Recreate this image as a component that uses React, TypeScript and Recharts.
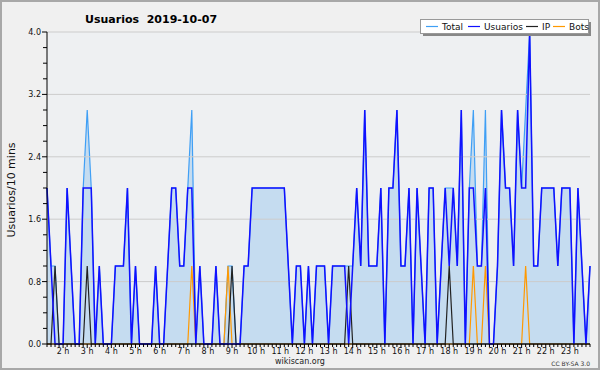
import React from 'react';
import { ComposedChart, Area, Line, XAxis, YAxis, ReferenceLine, CartesianGrid } from 'recharts';

const times = [
  '01:20', '01:30', '01:40', '01:50',
  '02:00', '02:10', '02:20', '02:30', '02:40', '02:50',
  '03:00', '03:10', '03:20', '03:30', '03:40', '03:50',
  '04:00', '04:10', '04:20', '04:30', '04:40', '04:50',
  '05:00', '05:10', '05:20', '05:30', '05:40', '05:50',
  '06:00', '06:10', '06:20', '06:30', '06:40', '06:50',
  '07:00', '07:10', '07:20', '07:30', '07:40', '07:50',
  '08:00', '08:10', '08:20', '08:30', '08:40', '08:50',
  '09:00', '09:10', '09:20', '09:30', '09:40', '09:50',
  '10:00', '10:10', '10:20', '10:30', '10:40', '10:50',
  '11:00', '11:10', '11:20', '11:30', '11:40', '11:50',
  '12:00', '12:10', '12:20', '12:30', '12:40', '12:50',
  '13:00', '13:10', '13:20', '13:30', '13:40', '13:50',
  '14:00', '14:10', '14:20', '14:30', '14:40', '14:50',
  '15:00', '15:10', '15:20', '15:30', '15:40', '15:50',
  '16:00', '16:10', '16:20', '16:30', '16:40', '16:50',
  '17:00', '17:10', '17:20', '17:30', '17:40', '17:50',
  '18:00', '18:10', '18:20', '18:30', '18:40', '18:50',
  '19:00', '19:10', '19:20', '19:30', '19:40', '19:50',
  '20:00', '20:10', '20:20', '20:30', '20:40', '20:50',
  '21:00', '21:10', '21:20', '21:30', '21:40', '21:50',
  '22:00', '22:10', '22:20', '22:30', '22:40', '22:50',
  '23:00', '23:10', '23:20', '23:30', '23:40', '23:50',
];

const total = [
  2, 1, 1, 0, 0, 2, 1, 0, 0, 2,
  3, 2, 0, 1, 0, 0, 0, 1, 1, 1,
  2, 0, 1, 0, 0, 0, 0, 1, 0, 0,
  1, 2, 2, 1, 1, 2, 3, 0, 1, 0,
  0, 0, 1, 0, 0, 1, 1, 0, 0, 1,
  1, 2, 2, 2, 2, 2, 2, 2, 2, 2,
  1, 0, 1, 1, 0, 1, 0, 1, 1, 1,
  0, 1, 1, 1, 1, 1, 1, 2, 1, 3,
  1, 1, 1, 2, 0, 2, 2, 3, 1, 1,
  2, 0, 2, 1, 0, 2, 2, 0, 1, 2,
  2, 2, 1, 3, 0, 2, 3, 1, 1, 3,
  0, 0, 1, 3, 2, 2, 1, 3, 2, 3,
  4, 1, 1, 2, 2, 2, 2, 1, 2, 2,
  2, 0, 2, 1, 0, 1,
];

const usuarios = [
  2, 1, 0, 0, 0, 2, 1, 0, 0, 2,
  2, 2, 0, 1, 0, 0, 0, 1, 1, 1,
  2, 0, 1, 0, 0, 0, 0, 1, 0, 0,
  1, 2, 2, 1, 1, 2, 2, 0, 1, 0,
  0, 0, 1, 0, 0, 0, 0, 0, 0, 1,
  1, 2, 2, 2, 2, 2, 2, 2, 2, 2,
  1, 0, 1, 1, 0, 1, 0, 1, 1, 1,
  0, 1, 1, 1, 1, 0, 1, 2, 1, 3,
  1, 1, 1, 2, 0, 2, 2, 3, 1, 1,
  2, 0, 2, 1, 0, 2, 2, 0, 1, 2,
  1, 2, 1, 3, 0, 2, 2, 1, 1, 2,
  0, 0, 1, 3, 2, 2, 1, 3, 2, 2,
  4, 1, 1, 2, 2, 2, 2, 1, 2, 2,
  2, 0, 2, 1, 0, 1,
];

const ip = [
  0, 0, 1, 0, 0, 0, 0, 0, 0, 0,
  1, 0, 0, 0, 0, 0, 0, 0, 0, 0,
  0, 0, 0, 0, 0, 0, 0, 0, 0, 0,
  0, 0, 0, 0, 0, 0, 0, 0, 0, 0,
  0, 0, 0, 0, 0, 0, 1, 0, 0, 0,
  0, 0, 0, 0, 0, 0, 0, 0, 0, 0,
  0, 0, 0, 0, 0, 0, 0, 0, 0, 0,
  0, 0, 0, 0, 0, 1, 0, 0, 0, 0,
  0, 0, 0, 0, 0, 0, 0, 0, 0, 0,
  0, 0, 0, 0, 0, 0, 0, 0, 0, 0,
  1, 0, 0, 0, 0, 0, 0, 0, 0, 0,
  0, 0, 0, 0, 0, 0, 0, 0, 0, 0,
  0, 0, 0, 0, 0, 0, 0, 0, 0, 0,
  0, 0, 0, 0, 0, 0,
];

const bots = [
  0, 0, 0, 0, 0, 0, 0, 0, 0, 0,
  0, 0, 0, 0, 0, 0, 0, 0, 0, 0,
  0, 0, 0, 0, 0, 0, 0, 0, 0, 0,
  0, 0, 0, 0, 0, 0, 1, 0, 0, 0,
  0, 0, 0, 0, 0, 1, 0, 0, 0, 0,
  0, 0, 0, 0, 0, 0, 0, 0, 0, 0,
  0, 0, 0, 0, 0, 0, 0, 0, 0, 0,
  0, 0, 0, 0, 0, 0, 0, 0, 0, 0,
  0, 0, 0, 0, 0, 0, 0, 0, 0, 0,
  0, 0, 0, 0, 0, 0, 0, 0, 0, 0,
  0, 0, 0, 0, 0, 0, 1, 0, 0, 1,
  0, 0, 0, 0, 0, 0, 0, 0, 0, 1,
  0, 0, 0, 0, 0, 0, 0, 0, 0, 0,
  0, 0, 0, 0, 0, 0,
];

const yTicks = [0, 0.2, 0.4, 0.6, 0.8, 1, 1.2, 1.4, 1.6, 1.8, 2, 2.2, 2.4, 2.6, 2.8, 3, 3.2, 3.4, 3.6, 3.8, 4];
const yLabelTicks = [0, 0.8, 1.6, 2.4, 3.2, 4];
const gridValues = [0.8, 1.6, 2.4, 3.2, 4];

const FONT = 'DejaVu Sans, sans-serif';

const data = times.map((t, i) => ({
  t,
  total: total[i],
  usuarios: usuarios[i],
  ip: ip[i],
  bots: bots[i],
}));

const XTick = (props: any) => {
  const { x, y, payload } = props;
  const v: string = payload.value;
  const isHour = v.endsWith(':00');
  return (
    <g>
      <line x1={x} x2={x} y1={y} y2={y + (isHour ? 4 : 3)} stroke="#000" strokeWidth={1} />
      {isHour && (
        <text x={x} y={y + 10} textAnchor="middle" fontSize={8} fontFamily={FONT} fill="#111">
          {parseInt(v, 10) + ' h'}
        </text>
      )}
    </g>
  );
};

const YTick = (props: any) => {
  const { x, y, payload } = props;
  const v: number = payload.value;
  const isMajor = yLabelTicks.some((t) => Math.abs(t - v) < 1e-6);
  return (
    <g>
      <line x1={x - (isMajor ? 5 : 4)} x2={x} y1={y} y2={y} stroke="#000" strokeWidth={1} />
      {isMajor && (
        <text x={x - 6} y={y + 3} textAnchor="end" fontSize={8} fontFamily={FONT} fill="#111">
          {v.toFixed(1)}
        </text>
      )}
    </g>
  );
};

const legendItems = [
  { label: 'Total', color: '#3f9ff5', lx: 426, tx: 442 },
  { label: 'Usuarios', color: '#1010ff', lx: 468, tx: 484 },
  { label: 'IP', color: '#222222', lx: 526, tx: 542 },
  { label: 'Bots', color: '#ff9900', lx: 553, tx: 569 },
];

export default function App() {
  return (
    <div style={{ position: 'absolute', left: 0, top: 0, width: 600, height: 370, background: '#f0f0f0' }}>
      <ComposedChart
        width={600}
        height={370}
        data={data}
        margin={{ top: 32, right: 10, bottom: 6, left: 7 }}
      >
        <CartesianGrid horizontal={false} vertical={false} fill="#eef0f2" />
        {gridValues.map((g) => (
          <ReferenceLine key={g} y={g} stroke="#cccccc" strokeWidth={1} ifOverflow="visible" />
        ))}
        <XAxis
          dataKey="t"
          type="category"
          interval={0}
          tickSize={0}
          tickMargin={0}
          tickLine={false}
          tick={<XTick />}
          axisLine={{ stroke: '#000' }}
          height={20}
        />
        <YAxis
          type="number"
          domain={[0, 4]}
          ticks={yTicks}
          interval={0}
          tickSize={0}
          tickMargin={0}
          tickLine={false}
          tick={<YTick />}
          axisLine={{ stroke: '#000' }}
          width={40}
        />
        <Area
          type="linear"
          dataKey="total"
          stroke="#3f9ff5"
          strokeWidth={1.2}
          fill="#c5dcf0"
          fillOpacity={1}
          isAnimationActive={false}
          dot={false}
          activeDot={false}
        />
        <Line type="linear" dataKey="bots" stroke="#ff9900" strokeWidth={1.2} dot={false} activeDot={false} isAnimationActive={false} />
        <Line type="linear" dataKey="ip" stroke="#222222" strokeWidth={1.2} dot={false} activeDot={false} isAnimationActive={false} />
        <Line type="linear" dataKey="usuarios" stroke="#1010ff" strokeWidth={1.5} dot={false} activeDot={false} isAnimationActive={false} />
      </ComposedChart>
      <svg
        width={600}
        height={370}
        style={{ position: 'absolute', left: 0, top: 0, pointerEvents: 'none' }}
      >
        <rect x={1} y={1} width={598} height={368} fill="none" stroke="#a8a8a8" strokeWidth={2} />
        <text x={85} y={23} fontFamily={FONT} fontWeight="bold" fontSize={11} fill="#000" xmlSpace="preserve" style={{ whiteSpace: 'pre' }}>
          Usuarios  2019-10-07
        </text>
        <text transform="translate(15,190) rotate(-90)" textAnchor="middle" fontFamily={FONT} fontSize={11} fill="#111">
          Usuarios/10 mins
        </text>
        <text x={300} y={364} textAnchor="middle" fontFamily={FONT} fontSize={8} fill="#222">
          wikiscan.org
        </text>
        <text x={590} y={366} textAnchor="end" fontFamily={FONT} fontSize={6} fill="#333">
          CC BY-SA 3.0
        </text>
        <rect x={423} y={22} width={168} height={14} fill="#888888" />
        <rect x={420.5} y={19.5} width={168} height={14} fill="#ffffff" stroke="#999999" strokeWidth={1} />
        {legendItems.map((it) => (
          <g key={it.label}>
            <line x1={it.lx} x2={it.lx + 12} y1={26.5} y2={26.5} stroke={it.color} strokeWidth={1.2} />
            <text x={it.tx} y={30} fontFamily={FONT} fontSize={9} fill="#111">
              {it.label}
            </text>
          </g>
        ))}
      </svg>
    </div>
  );
}
